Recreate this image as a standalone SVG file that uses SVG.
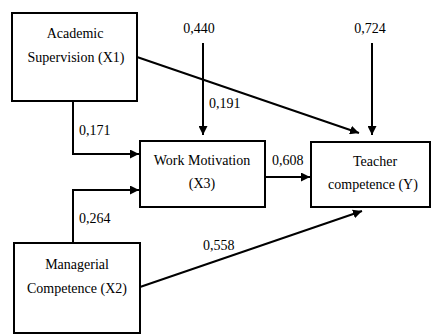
<svg xmlns="http://www.w3.org/2000/svg" width="432" height="334" viewBox="0 0 432 334" font-family="Liberation Serif, DejaVu Serif, serif">
<style>
.box{fill:#fff;stroke:#000;stroke-width:2}
text{font-family:"Liberation Serif","DejaVu Serif",serif;font-size:14px;fill:#000}
.c{text-anchor:middle}
.ln{fill:none;stroke:#000;stroke-width:2}
</style>
<defs>
<marker id="ah" viewBox="0 0 10 10" refX="10" refY="5" markerWidth="4.5" markerHeight="4.5" markerUnits="strokeWidth" orient="auto">
<path d="M0,0 L10,5 L0,10 z" fill="#000"/>
</marker>
</defs>
<rect width="432" height="334" fill="#fff"/>
<g id="connectors">
<path class="ln" d="M137,57 L359,133" marker-end="url(#ah)"/>
<path class="ln" d="M203,43 L203,135" marker-end="url(#ah)"/>
<path class="ln" d="M372,43 L372,135" marker-end="url(#ah)"/>
<path class="ln" d="M73,101 L73,154 L139,154" marker-end="url(#ah)"/>
<path class="ln" d="M73,243 L73,190 L139,190" marker-end="url(#ah)"/>
<path class="ln" d="M265,177 L310,177" marker-end="url(#ah)"/>
<path class="ln" d="M140,287 L362,211" marker-end="url(#ah)"/>
<text class="c" x="199" y="33" font-family="Liberation Serif">0,440</text>
<text class="c" x="370" y="33">0,724</text>
<text x="209" y="108">0,191</text>
<text x="79" y="135">0,171</text>
<text x="272" y="165">0,608</text>
<text x="79" y="223">0,264</text>
<text x="203" y="250">0,558</text>
</g>
<g id="x1">
<rect class="box" x="12" y="13" width="125" height="88"/>
<text class="c" x="75" y="38">Academic</text>
<text class="c" x="76" y="62">Supervision (X1)</text>
</g>
<g id="x3">
<rect class="box" x="140" y="141" width="125" height="66"/>
<text class="c" x="202" y="165">Work Motivation</text>
<text class="c" x="202" y="188">(X3)</text>
</g>
<g id="y">
<rect class="box" x="311" y="142" width="119" height="65"/>
<text class="c" x="375" y="166">Teacher</text>
<text class="c" x="373" y="189">competence (Y)</text>
</g>
<g id="x2">
<rect class="box" x="14" y="243" width="126" height="90"/>
<text class="c" x="77" y="269">Managerial</text>
<text class="c" x="77" y="293">Competence (X2)</text>
</g>
</svg>
